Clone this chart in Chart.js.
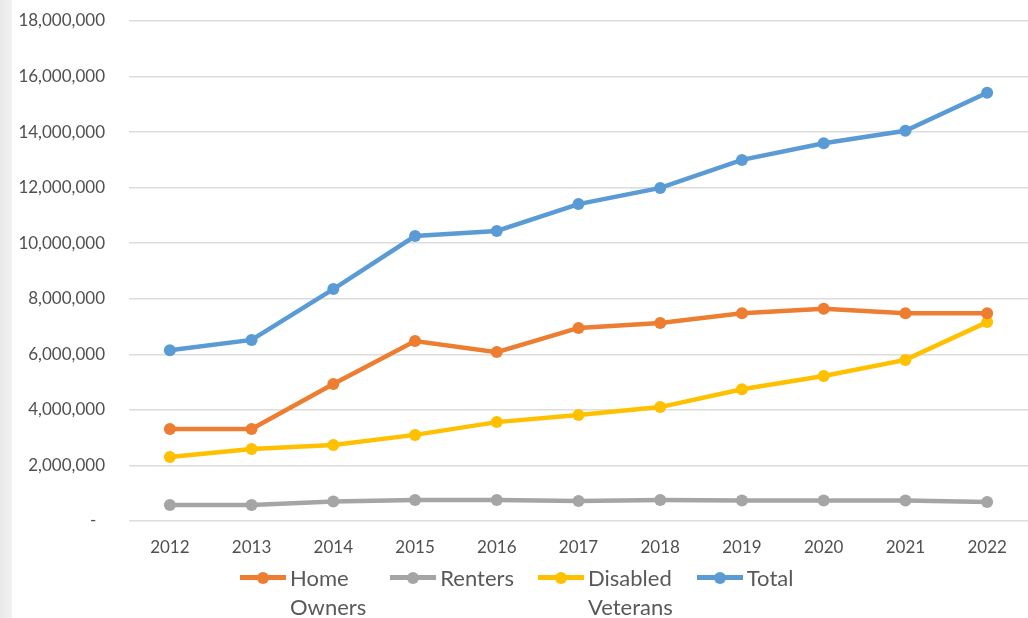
<!DOCTYPE html>
<html>
<head>
<meta charset="utf-8">
<script src="https://cdn.jsdelivr.net/npm/chart.js@4.4.1/dist/chart.umd.min.js"></script>
<style>
    html, body { margin: 0; padding: 0; background: #fff; width: 1028px; height: 618px; overflow: hidden; }
    #wrap { position: relative; width: 1028px; height: 618px; }
    #strip { position: absolute; left: 0; top: 0; width: 12px; height: 618px; background: linear-gradient(to right, #e9e9e9, #f1f1f1); }
    #grafico { position: absolute; left: 0; top: 0; }
    #leyenda { position: absolute; left: 240px; top: 563px; display: flex; gap: 24px; font-family: Lato, sans-serif; font-size: 22px; line-height: 29px; color: #595959; }
    .item { display: flex; align-items: flex-start; }
    .sym { position: relative; width: 46px; height: 29px; margin-right: 4px; }
    .sym .ln { position: absolute; left: 0; right: 0; top: 12px; height: 5px; }
    .sym .pt { position: absolute; left: 17px; top: 8.5px; width: 12px; height: 12px; border-radius: 50%; }
</style>
</head>
<body>
<div id="wrap">
    <div id="strip"></div>
    <canvas id="grafico" width="1034" height="618"></canvas>
    <div id="leyenda"></div>
</div>
<script>
// DATOS
const anios = ['2012', '2013', '2014', '2015', '2016', '2017', '2018', '2019', '2020', '2021', '2022'];
const homeOwners = [3310000, 3310000, 4930000, 6480000, 6080000, 6950000, 7130000, 7480000, 7640000, 7480000, 7480000];
const renters = [580000, 580000, 700000, 760000, 760000, 720000, 760000, 740000, 740000, 740000, 680000];
const disabledVeterans = [2300000, 2590000, 2740000, 3100000, 3560000, 3820000, 4100000, 4740000, 5220000, 5800000, 7160000];
const total = [6150000, 6520000, 8350000, 10260000, 10440000, 11410000, 11990000, 13000000, 13600000, 14050000, 15420000];
const yTicks = [0, 2000000, 4000000, 6000000, 8000000, 10000000, 12000000, 14000000, 16000000, 18000000];

const series = [
    { label: 'Home Owners', data: homeOwners, color: '#ED7D31' },
    { label: 'Renters', data: renters, color: '#A5A5A5' },
    { label: 'Disabled Veterans', data: disabledVeterans, color: '#FFC000' },
    { label: 'Total', data: total, color: '#5B9BD5' }
];

const fuente = { family: 'Lato, sans-serif', size: 17 };

const chart = new Chart(document.getElementById('grafico'), {
    type: 'line',
    data: {
        labels: anios,
        datasets: series.map(s => ({
            label: s.label,
            data: s.data,
            borderColor: s.color,
            backgroundColor: s.color,
            borderWidth: 4.5,
            pointRadius: 6,
            pointBorderWidth: 0,
            tension: 0
        }))
    },
    options: {
        responsive: false,
        animation: false,
        layout: { padding: { top: 21, left: 0, right: 1, bottom: 0 } },
        plugins: {
            legend: { display: false },
            tooltip: { enabled: false }
        },
        scales: {
            x: {
                offset: true,
                grid: { display: false, drawTicks: false },
                border: { display: false },
                ticks: { color: '#505050', font: fuente, padding: 16, maxRotation: 0 },
                afterFit: function (scale) { scale.height = 97; }
            },
            y: {
                min: 0,
                max: 18000000,
                afterBuildTicks: function (scale) { scale.ticks = yTicks.map(v => ({ value: v })); },
                grid: { color: '#dcdcdc', lineWidth: 1.5, drawTicks: false },
                border: { display: false },
                ticks: {
                    color: '#505050',
                    font: fuente,
                    padding: 24,
                    callback: function (v) { return v === 0 ? '-  ' : v.toLocaleString('en-US'); }
                },
                afterFit: function (scale) {
                    scale.width = 129;
                    scale.paddingTop = 0;
                    scale.paddingBottom = 0;
                }
            }
        }
    }
});

// LEYENDA
const leyenda = document.getElementById('leyenda');
chart.data.datasets.forEach(function (ds) {
    const item = document.createElement('div');
    item.className = 'item';
    item.innerHTML = '<div class="sym"><div class="ln" style="background:' + ds.borderColor + '"></div>' +
        '<div class="pt" style="background:' + ds.borderColor + '"></div></div>' +
        '<div class="txt">' + ds.label.split(' ').join('<br>') + '</div>';
    leyenda.appendChild(item);
});
</script>
</body>
</html>
